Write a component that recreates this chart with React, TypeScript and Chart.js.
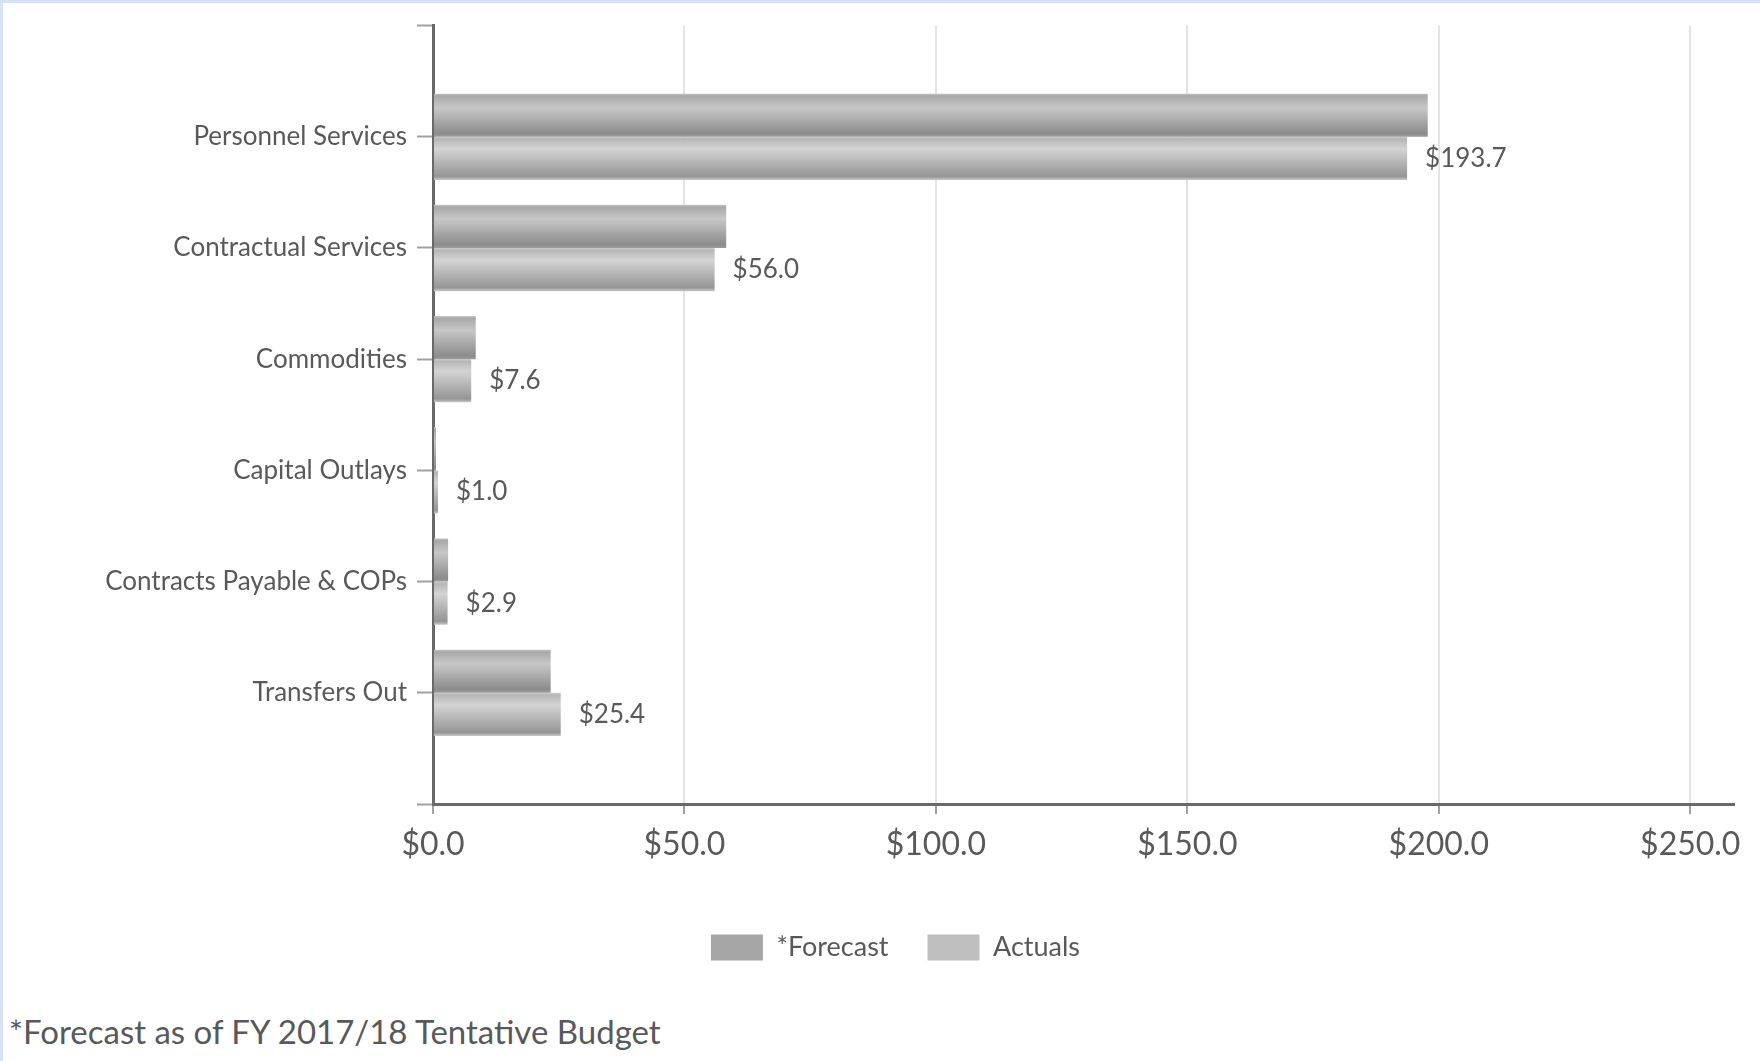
import { useEffect, useRef } from 'react';
import { Chart, registerables } from 'chart.js';

Chart.register(...registerables);

const categories = [
  'Personnel Services',
  'Contractual Services',
  'Commodities',
  'Capital Outlays',
  'Contracts Payable & COPs',
  'Transfers Out',
];
const forecastValues = [197.8, 58.3, 8.5, 0.6, 3.0, 23.4];
const actualValues = [193.7, 56.0, 7.6, 1.0, 2.9, 25.4];
const xTickValues = [0, 50, 100, 150, 200, 250];
const xAxisMax = 258.7;
const seriesNames = ['*Forecast', 'Actuals'];
const footnote = '*Forecast as of FY 2017/18 Tentative Budget';

const FONT = 'Lato, "Open Sans", sans-serif';
const TEXT = '#595959';

const gradientStops: Array<Array<[number, string]>> = [
  [
    [0, '#c6c6c6'],
    [0.05, '#a8a8a8'],
    [0.33, '#c7c7c7'],
    [0.92, '#8c8c8c'],
    [1, '#9c9c9c'],
  ],
  [
    [0, '#cdcdcd'],
    [0.05, '#b6b6b6'],
    [0.28, '#d4d4d4'],
    [0.92, '#959595'],
    [1, '#c9c9c9'],
  ],
];

const gradientPlugin = {
  id: 'barGradient',
  beforeDatasetsDraw(chart: any) {
    const ctx = chart.ctx;
    chart.data.datasets.forEach((_ds: any, di: number) => {
      const meta = chart.getDatasetMeta(di);
      meta.data.forEach((el: any) => {
        const { y, height } = el.getProps(['y', 'height'], true);
        if (!isFinite(y) || !isFinite(height)) return;
        const g = ctx.createLinearGradient(0, y - height / 2, 0, y + height / 2);
        gradientStops[di].forEach(([o, c]) => g.addColorStop(o, c));
        el.options.backgroundColor = g;
      });
    });
  },
};

const valueLabelPlugin = {
  id: 'valueLabels',
  afterDatasetsDraw(chart: any) {
    const ctx = chart.ctx;
    const meta = chart.getDatasetMeta(1);
    ctx.save();
    ctx.font = `26px ${FONT}`;
    ctx.fillStyle = TEXT;
    ctx.textAlign = 'left';
    ctx.textBaseline = 'middle';
    meta.data.forEach((el: any, i: number) => {
      const v = chart.data.datasets[1].data[i];
      if (v === null || v === undefined) return;
      const { x, y } = el.getProps(['x', 'y'], true);
      ctx.fillText('$' + Number(v).toFixed(1), x + 18, y);
    });
    ctx.restore();
  },
};

export default function App() {
  const canvasRef = useRef<HTMLCanvasElement | null>(null);

  useEffect(() => {
    if (!canvasRef.current) return;
    const labels = ['', ...categories, ''];
    const chart = new Chart(canvasRef.current, {
      type: 'bar',
      data: {
        labels,
        datasets: [
          {
            label: seriesNames[0],
            data: [null, ...forecastValues, null],
            backgroundColor: () => '#a6a6a6',
            borderWidth: 0,
          },
          {
            label: seriesNames[1],
            data: [null, ...actualValues, null],
            backgroundColor: () => '#bfbfbf',
            borderWidth: 0,
          },
        ],
      },
      options: {
        indexAxis: 'y',
        responsive: false,
        animation: false,
        devicePixelRatio: 1,
        layout: { padding: { left: 57, right: 26, top: 25, bottom: 29 } },
        datasets: {
          bar: { categoryPercentage: 0.776, barPercentage: 1 },
        },
        plugins: {
          legend: {
            position: 'bottom',
            labels: {
              boxWidth: 52,
              boxHeight: 26,
              padding: 39,
              color: TEXT,
              font: { family: FONT, size: 27 },
            },
          },
          tooltip: { enabled: false },
        },
        scales: {
          x: {
            type: 'linear',
            position: 'bottom',
            min: 0,
            max: xAxisMax,
            afterBuildTicks: (s: any) => {
              s.ticks = xTickValues.map((v) => ({ value: v }));
            },
            afterFit: (s: any) => {
              s.height = 91;
            },
            ticks: {
              color: TEXT,
              font: { family: FONT, size: 32 },
              padding: 11,
              callback: (v: any) => '$' + Number(v).toFixed(1),
            },
            grid: {
              color: '#e4e4e4',
              lineWidth: 2,
              tickColor: '#a0a0a0',
              tickLength: 10,
              tickWidth: 2,
            },
            border: { color: '#696969', width: 3 },
          },
          y: {
            type: 'category',
            offset: false,
            afterFit: (s: any) => {
              s.width = 376;
            },
            ticks: {
              autoSkip: false,
              color: TEXT,
              font: { family: FONT, size: 26 },
              padding: 10,
            },
            grid: {
              offset: false,
              drawOnChartArea: false,
              tickColor: '#a0a0a0',
              tickLength: 16,
              tickWidth: 2,
            },
            border: { color: '#696969', width: 3 },
          },
        },
      },
      plugins: [gradientPlugin, valueLabelPlugin],
    } as any);
    return () => chart.destroy();
  }, []);

  return (
    <div
      style={{
        position: 'fixed',
        left: 0,
        top: 0,
        width: 1760,
        height: 1061,
        background: '#ffffff',
        overflow: 'hidden',
        borderTop: '3px solid #d5e3f4',
        borderLeft: '3px solid #d5e3f4',
        boxSizing: 'border-box',
      }}
    >
      <canvas
        ref={canvasRef}
        width={1760}
        height={1000}
        style={{ position: 'absolute', left: -3, top: -3, width: 1760, height: 1000 }}
      />
      <div
        style={{
          position: 'absolute',
          left: 6,
          top: 1008,
          fontFamily: FONT,
          fontSize: 33,
          lineHeight: '40px',
          color: TEXT,
          whiteSpace: 'nowrap',
        }}
      >
        {footnote}
      </div>
    </div>
  );
}
